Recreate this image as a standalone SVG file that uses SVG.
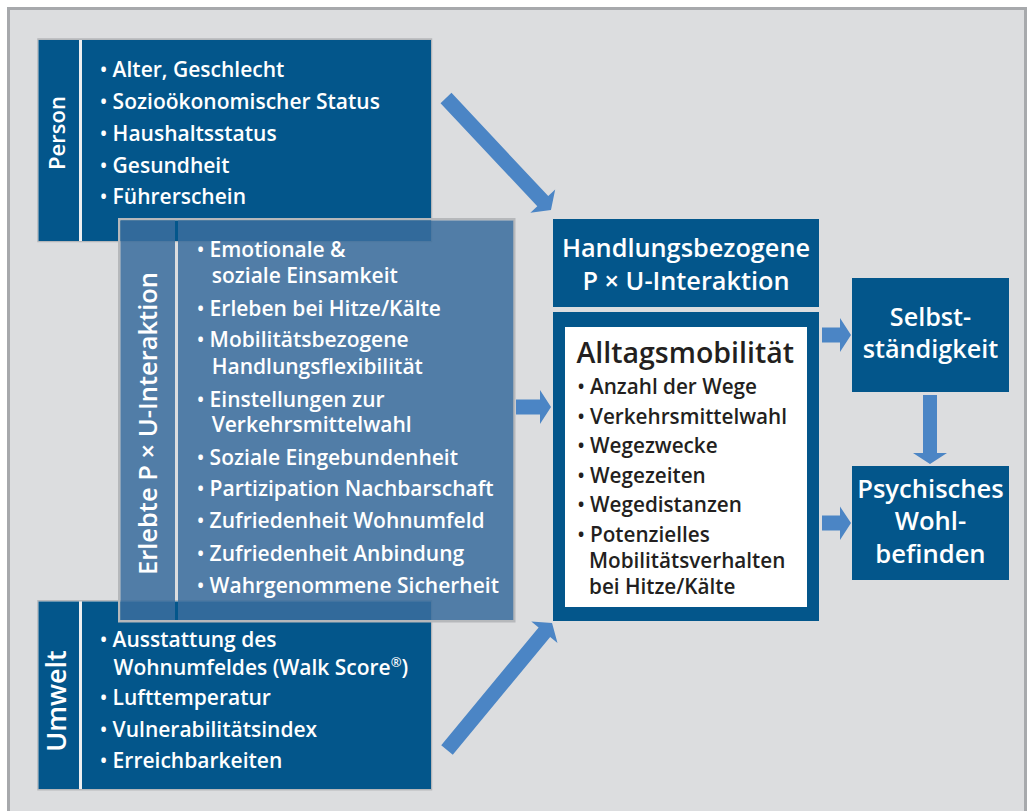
<svg xmlns="http://www.w3.org/2000/svg" width="1031" height="811" viewBox="0 0 1031 811">
<style>
.t{font-family:"Open Sans","Noto Sans","Liberation Sans",sans-serif;font-weight:600;}
.w{fill:#ffffff;}
.k{fill:#231f20;}
.box{fill:#03568b;}
.gap{fill:#eeeff0;}
.arr{fill:#4b85c5;}
.semi{fill:#3a6e9d;fill-opacity:0.86;}
.b{font-size:19px;}
</style>
<rect x="0" y="0" width="1031" height="811" fill="#ffffff"/>
<rect x="8.5" y="8.5" width="1017" height="830" fill="#dcdddf" stroke="#a7a9ac" stroke-width="3"/>

<g id="person">
<rect x="37.25" y="38.25" width="395" height="204" fill="#b5b7ba"/>
<rect x="38.5" y="40" width="392.5" height="201" class="gap"/>
<rect x="38.5" y="40" width="40.5" height="201" class="box"/>
<rect x="82" y="40" width="349" height="201" class="box"/>
<text class="t w" font-size="22" text-anchor="middle" transform="translate(65,133) rotate(-90)">Person</text>
<g class="t w" font-size="21">
<text x="100" y="77"><tspan class="b">•</tspan> Alter, Geschlecht</text>
<text x="100" y="109"><tspan class="b">•</tspan> Sozioökonomischer Status</text>
<text x="100" y="141"><tspan class="b">•</tspan> Haushaltsstatus</text>
<text x="100" y="172.5"><tspan class="b">•</tspan> Gesundheit</text>
<text x="100" y="204"><tspan class="b">•</tspan> Führerschein</text>
</g>
</g>

<g id="umwelt">
<rect x="37.25" y="600" width="395" height="190.5" fill="#b5b7ba"/>
<rect x="38.5" y="601.5" width="392.5" height="187.5" class="gap"/>
<rect x="38.5" y="601.5" width="40.5" height="187.5" class="box"/>
<rect x="82" y="601.5" width="349" height="187.5" class="box"/>
<text class="t w" font-size="27" text-anchor="middle" transform="translate(66,701) rotate(-90)">Umwelt</text>
<g class="t w" font-size="21">
<text x="100" y="646.7"><tspan class="b">•</tspan> Ausstattung des<tspan x="113.6" y="675">Wohnumfeldes (Walk Score</tspan><tspan font-size="13" dy="-8">®</tspan><tspan dy="8">)</tspan></text>
<text x="100" y="705"><tspan class="b">•</tspan> Lufttemperatur</text>
<text x="100" y="736.7"><tspan class="b">•</tspan> Vulnerabilitätsindex</text>
<text x="100" y="768"><tspan class="b">•</tspan> Erreichbarkeiten</text>
</g>
</g>

<g id="erlebte">
<rect x="119.25" y="219.25" width="395" height="402" fill="none" stroke="#b6b8bb" stroke-width="2.5"/>
<rect x="120.5" y="220.5" width="54.5" height="399.5" class="semi"/>
<rect x="178" y="220.5" width="335.25" height="399.5" class="semi"/>
<text class="t w" font-size="25.5" text-anchor="middle" transform="translate(157,423.5) rotate(-90)">Erlebte P × U-Interaktion</text>
<g class="t w" font-size="21">
<text x="197" y="256.7"><tspan class="b">•</tspan> Emotionale &amp;<tspan x="211.7" y="283">soziale Einsamkeit</tspan></text>
<text x="197" y="316"><tspan class="b">•</tspan> Erleben bei Hitze/Kälte</text>
<text x="197" y="347"><tspan class="b">•</tspan> Mobilitätsbezogene<tspan x="211.7" y="374">Handlungsflexibilität</tspan></text>
<text x="197" y="406.7"><tspan class="b">•</tspan> Einstellungen zur<tspan x="211.7" y="432">Verkehrsmittelwahl</tspan></text>
<text x="197" y="465"><tspan class="b">•</tspan> Soziale Eingebundenheit</text>
<text x="197" y="496"><tspan class="b">•</tspan> Partizipation Nachbarschaft</text>
<text x="197" y="528"><tspan class="b">•</tspan> Zufriedenheit Wohnumfeld</text>
<text x="197" y="561"><tspan class="b">•</tspan> Zufriedenheit Anbindung</text>
<text x="197" y="593"><tspan class="b">•</tspan> Wahrgenommene Sicherheit</text>
</g>
</g>

<g id="handlung">
<rect x="553" y="219" width="266" height="88" class="box"/>
<text class="t w" font-size="25.3" text-anchor="middle" x="686" y="257">Handlungsbezogene</text>
<text class="t w" font-size="25.3" text-anchor="middle" x="686" y="289.5">P × U-Interaktion</text>
</g>

<g id="alltag">
<rect x="553" y="312" width="266" height="309" class="box"/>
<rect x="565" y="327" width="242" height="280" fill="#ffffff"/>
<text class="t k" font-size="28.5" x="576.5" y="363">Alltagsmobilität</text>
<g class="t k" font-size="20.7">
<text x="577.5" y="394"><tspan class="b">•</tspan> Anzahl der Wege</text>
<text x="577.5" y="424"><tspan class="b">•</tspan> Verkehrsmittelwahl</text>
<text x="577.5" y="453"><tspan class="b">•</tspan> Wegezwecke</text>
<text x="577.5" y="483"><tspan class="b">•</tspan> Wegezeiten</text>
<text x="577.5" y="512"><tspan class="b">•</tspan> Wegedistanzen</text>
<text x="577.5" y="542"><tspan class="b">•</tspan> Potenzielles<tspan x="589" y="568">Mobilitätsverhalten</tspan><tspan x="589" y="594">bei Hitze/Kälte</tspan></text>
</g>
</g>

<g id="selbst">
<rect x="852" y="278" width="157" height="114" class="box"/>
<text class="t w" font-size="25.2" text-anchor="middle" x="930.5" y="326.2">Selbst-</text>
<text class="t w" font-size="25.2" text-anchor="middle" x="930.5" y="358.3">ständigkeit</text>
</g>

<g id="psych">
<rect x="852" y="466" width="157" height="114" class="box"/>
<text class="t w" font-size="25.6" text-anchor="middle" x="930.5" y="498">Psychisches</text>
<text class="t w" font-size="25.6" text-anchor="middle" x="930.5" y="530">Wohl-</text>
<text class="t w" font-size="25.6" text-anchor="middle" x="930.5" y="562.7">befinden</text>
</g>

<g id="connectors" class="arr">
<polygon transform="translate(446,98) rotate(46.85)" points="0,-7.5 141.5,-7.5 141.5,-17 153.5,0 141.5,17 141.5,7.5 0,7.5"/>
<polygon transform="translate(447,750) rotate(-50.4)" points="0,-7.5 152.8,-7.5 152.8,-17 164.8,0 152.8,17 152.8,7.5 0,7.5"/>
<polygon points="516,399.5 540,399.5 540,390 551,407 540,424 540,414.5 516,414.5"/>
<polygon points="822,327.5 840,327.5 840,318 851,335 840,352 840,342.5 822,342.5"/>
<polygon points="822,515.5 840,515.5 840,506.5 851,523 840,540 840,530.5 822,530.5"/>
<polygon points="923,395 937,395 937,453 947,453 930,464 913,453 923,453"/>
</g>
</svg>
